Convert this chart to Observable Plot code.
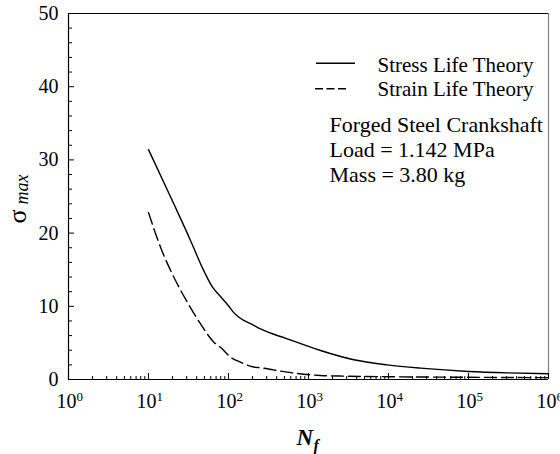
<!DOCTYPE html>
<html>
<head>
<meta charset="utf-8">
<script src="https://cdn.jsdelivr.net/npm/d3@7"></script>
<script src="https://cdn.jsdelivr.net/npm/@observablehq/plot@0.6"></script>
<style>
  html, body { margin: 0; padding: 0; background: white; }
  svg { display: block; }
</style>
</head>
<body>
<div id="chart"></div>
<script>
// ---- data ----
const stressN   = [10, 11.6, 20.7, 33.5, 47, 62.5, 80, 101, 115, 135, 207, 251, 541, 1413, 3690, 9616, 25119, 100000, 316228, 1000000];
const stressSig = [31.4, 29.9, 24.0, 19.0, 15.3, 12.7, 11.3, 10.0, 9.2, 8.5, 7.4, 6.9, 5.56, 3.96, 2.69, 2.0, 1.55, 1.1, 0.9, 0.78];
const strainN   = [10, 14.1, 20.7, 30.4, 44.7, 65.6, 79.4, 106, 141, 207, 251, 541, 1413, 3000, 10000, 100000, 1000000];
const strainSig = [22.8, 18.1, 14.0, 10.6, 7.6, 5.1, 4.4, 3.05, 2.37, 1.7, 1.6, 1.0, 0.55, 0.45, 0.38, 0.3, 0.25];

const seriesNames = ["Stress Life Theory", "Strain Life Theory"];
const annotation = ["Forged Steel Crankshaft", "Load = 1.142 MPa", "Mass = 3.80 kg"];
const decades = [0, 1, 2, 3, 4, 5, 6];
const yLabels = [0, 10, 20, 30, 40, 50];
const yMinor = [2,4,6,8,12,14,16,18,22,24,26,28,32,34,36,38,42,44,46,48];
const xMinor = [];
for (let d = 0; d < 6; d++) for (let k = 2; k <= 9; k++) xMinor.push(k * 10 ** d);

const stress = stressN.map((n, i) => ({N: n, s: stressSig[i]}));
const strain = strainN.map((n, i) => ({N: n, s: strainSig[i]}));

const W = 560, H = 454, ML = 68, MR = 12, MT = 13, MB = 75;
const PW = W - ML - MR, PH = H - MT - MB;
const font = "'Liberation Serif', 'Times New Roman', serif";

const annotMarks = annotation.map((t, i) =>
  Plot.text([t], {frameAnchor: "top-left", lineAnchor: "middle", textAnchor: "start", dx: 261, dy: 111 + i * 25, fontSize: 22, fill: "black"})
);

const chart = Plot.plot({
  width: W, height: H,
  marginLeft: ML, marginRight: MR, marginTop: MT, marginBottom: MB,
  x: {type: "log", domain: [1, 1e6], axis: null},
  y: {domain: [0, 50], axis: null},
  style: {fontFamily: font, background: "white", overflow: "visible"},
  marks: [
    // frame
    Plot.ruleX([1e6], {stroke: "#808080", strokeWidth: 1.2}),
    Plot.ruleY([50], {stroke: "black", strokeWidth: 1.2}),
    Plot.ruleX([1], {stroke: "black", strokeWidth: 1.2}),
    Plot.ruleY([0], {stroke: "black", strokeWidth: 1.2}),
    // inward ticks
    Plot.tickX(decades.map(d => 10 ** d), {x: d => d, insetTop: PH - 6, stroke: "black"}),
    Plot.tickX(xMinor, {x: d => d, insetTop: PH - 3, stroke: "black"}),
    Plot.tickY(yLabels, {y: d => d, insetRight: PW - 6, stroke: "black"}),
    Plot.tickY(yMinor, {y: d => d, insetRight: PW - 4, stroke: "black"}),
    // tick labels
    Plot.text(yLabels, {y: d => d, text: d => String(d), frameAnchor: "left", lineAnchor: "middle", textAnchor: "end", dx: -10, fontSize: 20, fill: "black"}),
    Plot.text(decades, {x: d => 10 ** d, text: d => "10", frameAnchor: "bottom", lineAnchor: "middle", textAnchor: "end", dx: 8, dy: 22, fontSize: 20, fill: "black"}),
    Plot.text(decades, {x: d => 10 ** d, text: d => String(d), frameAnchor: "bottom", lineAnchor: "middle", textAnchor: "start", dx: 8, dy: 17, fontSize: 13, fill: "black"}),
    // axis titles
    Plot.text(["σ"], {frameAnchor: "left", lineAnchor: "middle", rotate: -90, textAnchor: "start", dx: -51, dy: 27, fontSize: 26, fill: "black"}),
    Plot.text(["max"], {frameAnchor: "left", lineAnchor: "middle", rotate: -90, textAnchor: "start", dx: -46.5, dy: 8, fontSize: 18, fontStyle: "italic", fill: "black"}),
    Plot.text(["N"], {frameAnchor: "bottom-left", lineAnchor: "middle", textAnchor: "start", dx: 228, dy: 58, fontSize: 23, fontWeight: "bold", fontStyle: "italic", fill: "black"}),
    Plot.text(["f"], {frameAnchor: "bottom-left", lineAnchor: "middle", textAnchor: "start", dx: 245, dy: 66, fontSize: 16, fontWeight: "bold", fontStyle: "italic", fill: "black"}),
    // curves
    Plot.line(stress, {x: "N", y: "s", stroke: "black", strokeWidth: 1.4, curve: "monotone-x"}),
    Plot.line(strain, {x: "N", y: "s", stroke: "black", strokeWidth: 1.4, strokeDasharray: "12,5", curve: "monotone-x"}),
    // legend
    Plot.ruleY([50], {dy: 49.7, insetLeft: 248, insetRight: 193, stroke: "black", strokeWidth: 1.4}),
    Plot.ruleY([50], {dy: 75.3, insetLeft: 247, insetRight: 202, stroke: "black", strokeWidth: 1.4, strokeDasharray: "8,3.5"}),
    Plot.text([seriesNames[0]], {frameAnchor: "top-left", lineAnchor: "middle", textAnchor: "start", dx: 309, dy: 52, fontSize: 21, fill: "black"}),
    Plot.text([seriesNames[1]], {frameAnchor: "top-left", lineAnchor: "middle", textAnchor: "start", dx: 309, dy: 75.3, fontSize: 21, fill: "black"}),
    ...annotMarks
  ]
});
document.getElementById("chart").appendChild(chart);
</script>
</body>
</html>
